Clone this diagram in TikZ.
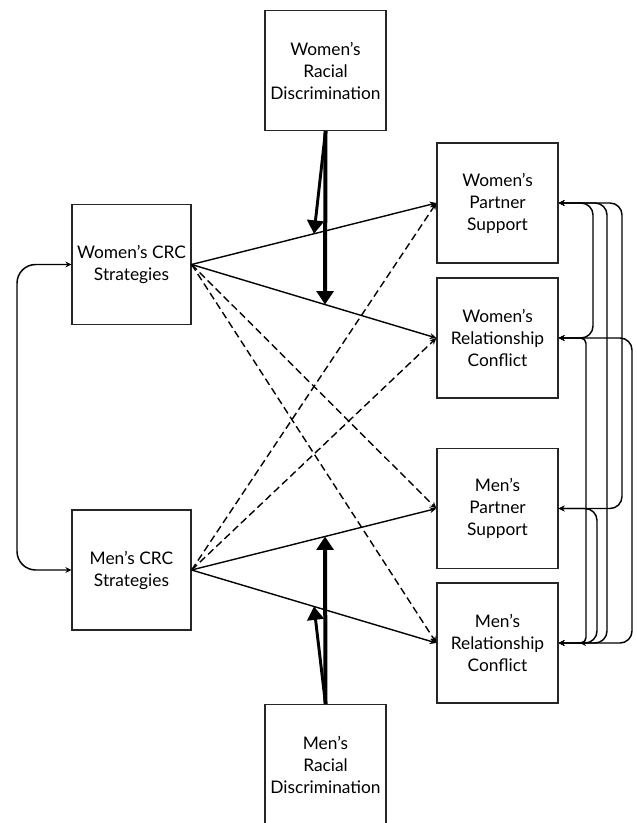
\documentclass[tikz,border=0pt]{standalone}
\usepackage{fontspec}
\setmainfont{Lato}
\usetikzlibrary{arrows.meta,calc}
\begin{document}
\begin{tikzpicture}[x=0.75pt,y=-0.75pt,
  box/.style={draw=black!85,line width=0.9pt,inner sep=0pt,align=center,
    minimum width=90.75pt,minimum height=90pt,font=\fontsize{13pt}{16.5pt}\selectfont},
  path/.style={line width=1.05pt,-{Stealth[length=5pt,width=4.5pt]}},
  dpath/.style={path,dash pattern=on 5.5pt off 3pt},
  thick1/.style={line width=3pt,-{Triangle[length=10pt,width=12.5pt]}},
  thick2/.style={line width=2.2pt,-{Triangle[length=10pt,width=12.5pt]}},
  cov/.style={line width=1.1pt,rounded corners=9pt,{Stealth[length=4.5pt,width=4.5pt]}-{Stealth[length=4.5pt,width=4.5pt]}}
]
\clip (0,0) rectangle (636,823);
\fill[white] (0,0) rectangle (636,823);
\node[box] (wrd) at (325.5,70.5) {Women’s\\Racial\\Discrimination};
\node[box,minimum width=89.25pt] (wcrc) at (131.5,264.5) {Women’s CRC\\Strategies};
\node[box,minimum width=89.25pt] (mcrc) at (131.5,570) {Men’s CRC\\Strategies};
\node[box] (wps) at (497.5,203) {Women’s\\Partner\\Support};
\node[box] (wrc) at (497.5,338) {Women’s\\Relationship\\Conflict};
\node[box] (mps) at (497.5,508.5) {Men’s\\Partner\\Support};
\node[box] (mrc) at (497.5,643) {Men’s\\Relationship\\Conflict};
\node[box] (mrd) at (325.5,764.5) {Men’s\\Racial\\Discrimination};
% paths
\draw[path] (wcrc.east) -- (wps.west) coordinate[pos=0.5] (m1);
\draw[path] (wcrc.east) -- (wrc.west) coordinate[pos=0.545] (m2);
\draw[path] (mcrc.east) -- (mps.west) coordinate[pos=0.545] (m3);
\draw[path] (mcrc.east) -- (mrc.west) coordinate[pos=0.5] (m4);
\draw[dpath] (wcrc.east) -- (mps.west);
\draw[dpath] (wcrc.east) -- (mrc.west);
\draw[dpath] (mcrc.east) -- (wps.west);
\draw[dpath] (mcrc.east) -- (wrc.west);
% moderation
\draw[thick2] (wrd.south) -- (m1);
\draw[thick1] (wrd.south) -- (m2);
\draw[thick1] (mrd.north) -- (m3);
\draw[thick2] (mrd.north) -- (m4);
% left covariance
\coordinate (lx) at (17,0);
\draw[cov,rounded corners=14pt] (wcrc.west) -| (lx |- mcrc.west) -- (mcrc.west);
% right covariances
\coordinate (c1) at (586,0);
\coordinate (c2) at (593,0);
\coordinate (c3) at (597,0);
\coordinate (c4) at (607,0);
\coordinate (c5) at (622,0);
\coordinate (c6) at (632,0);
\coordinate (e1) at (580,0);
\draw[cov] (wps.east) -| (c2 |- wrc.east) -- (wrc.east);
\draw[cov] (wps.east) -| (c4 |- mrc.east) -- (mrc.east);
\draw[cov] (wps.east) -| (c5 |- mps.east) -- (mps.east);
\draw[cov,rounded corners=4pt] (wrc.east) -| (c1 |- mrc.east) -- (e1 |- mrc.east);
\draw[cov] (wrc.east) -| (c6 |- mrc.east) -- (mrc.east);
\draw[cov] (mps.east) -| (c3 |- mrc.east) -- (mrc.east);
\end{tikzpicture}
\end{document}
